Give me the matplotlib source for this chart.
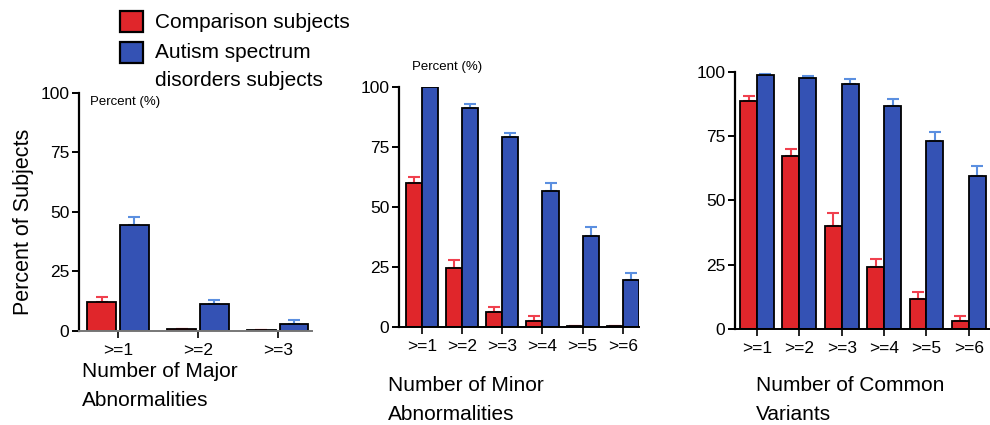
import matplotlib
matplotlib.use("Agg")
import matplotlib.pyplot as plt
import numpy as np
from matplotlib.patches import Rectangle

plt.rcParams['font.family'] = ['Liberation Sans', 'DejaVu Sans']

# ---- data ----
major_cats = [">=1", ">=2", ">=3"]
major_comp = [12, 0.8, 0.3]
major_comp_err = [2.2, 0.0, 0.0]
major_asd = [44.5, 11.5, 3.0]
major_asd_err = [3.5, 1.5, 1.5]

minor_cats = [">=1", ">=2", ">=3", ">=4", ">=5", ">=6"]
minor_comp = [60, 24.5, 6.3, 2.3, 0.5, 0.3]
minor_comp_err = [2.5, 3.3, 2.2, 2.2, 0.0, 0.3]
minor_asd = [99.9, 91.2, 79.0, 56.5, 37.8, 19.7]
minor_asd_err = [0.4, 1.6, 1.8, 3.3, 4.0, 2.6]

common_cats = [">=1", ">=2", ">=3", ">=4", ">=5", ">=6"]
common_comp = [88.6, 67.5, 40.0, 24.3, 11.5, 3.0]
common_comp_err = [2.2, 2.6, 5.0, 2.8, 2.8, 2.0]
common_asd = [99.0, 97.8, 95.3, 86.8, 73.3, 59.7]
common_asd_err = [0.3, 0.6, 1.8, 2.6, 3.2, 3.8]

yticks = [0, 25, 50, 75, 100]

RED = "#e0262b"
BLUE = "#3452b4"
RED_ERR = "#f0404e"
BLUE_ERR = "#5b8fe0"

fig = plt.figure(figsize=(9.9, 4.25), dpi=100)


def panel(rect, cats, comp, comp_err, asd, asd_err, width, gap, xlim, xlabel_lines,
          xlabel_pos, show_percent=None, ylabel=False, axis_color="black"):
    ax = fig.add_axes(rect)
    x = np.arange(len(cats))
    ax.bar(x - width / 2 - gap / 2, comp, width, color=RED, edgecolor="black",
           linewidth=1.3, zorder=2)
    ax.bar(x + width / 2 + gap / 2, asd, width, color=BLUE, edgecolor="black",
           linewidth=1.3, zorder=2)
    ax.errorbar(x - width / 2 - gap / 2, comp, yerr=[np.zeros(len(comp)), comp_err],
                fmt="none", ecolor=RED_ERR, elinewidth=1.5, capsize=4, capthick=1.5, zorder=1)
    ax.errorbar(x + width / 2 + gap / 2, asd, yerr=[np.zeros(len(asd)), asd_err],
                fmt="none", ecolor=BLUE_ERR, elinewidth=1.5, capsize=4, capthick=1.5, zorder=1)
    ax.set_xlim(*xlim)
    ax.set_ylim(0, 100)
    ax.set_yticks(yticks)
    ax.set_yticklabels([str(v) for v in yticks], fontsize=12.5)
    ax.set_xticks(x)
    ax.set_xticklabels(cats, fontsize=12.5)
    ax.spines['top'].set_visible(False)
    ax.spines['right'].set_visible(False)
    ax.spines['left'].set_linewidth(1.6)
    ax.spines['bottom'].set_linewidth(1.4)
    ax.spines['bottom'].set_color(axis_color)
    ax.tick_params(axis='y', length=5, width=1.4, pad=2)
    ax.tick_params(axis='x', length=5, width=1.2, pad=4)
    ax.patch.set_alpha(0)
    for t, line in enumerate(xlabel_lines):
        fig.text(xlabel_pos[0], xlabel_pos[1] - t * 0.068, line, fontsize=15,
                 ha="left", va="center")
    if show_percent is not None:
        fig.text(show_percent[0], show_percent[1], "Percent (%)", fontsize=9.5,
                 ha="left", va="center")
    if ylabel:
        ax.set_ylabel("Percent of Subjects", fontsize=15.5)
        ax.yaxis.set_label_coords(-0.195, 0.458)
    return ax


panel([0.0798, 0.2212, 0.2354, 0.5600], major_cats, major_comp, major_comp_err,
      major_asd, major_asd_err, width=0.36, gap=0.05, xlim=(-0.49, 2.43),
      xlabel_lines=["Number of Major", "Abnormalities"], xlabel_pos=(0.083, 0.125),
      show_percent=(0.091, 0.760), ylabel=True, axis_color="#777777")

panel([0.4030, 0.2306, 0.2424, 0.5647], minor_cats, minor_comp, minor_comp_err,
      minor_asd, minor_asd_err, width=0.40, gap=0.0, xlim=(-0.57, 5.4),
      xlabel_lines=["Number of Minor", "Abnormalities"], xlabel_pos=(0.392, 0.092),
      show_percent=(0.416, 0.842))

panel([0.7424, 0.2259, 0.2576, 0.6047], common_cats, common_comp, common_comp_err,
      common_asd, common_asd_err, width=0.40, gap=0.0, xlim=(-0.52, 5.5),
      xlabel_lines=["Number of Common", "Variants"], xlabel_pos=(0.764, 0.092))

# legend
for i, (col, lab) in enumerate([(RED, ["Comparison subjects"]),
                                (BLUE, ["Autism spectrum", "disorders subjects"])]):
    y0 = 1 - (32 + i * 31) / 425
    fig.patches.append(Rectangle((120 / 990, y0), 23 / 990, 21 / 425,
                                 transform=fig.transFigure, facecolor=col,
                                 edgecolor="black", linewidth=1.6))
    for j, line in enumerate(lab):
        fig.text(155 / 990, 1 - (22 + i * 30 + j * 28) / 425, line,
                 fontsize=15, ha="left", va="center")

fig.savefig("out.png", dpi=100)
